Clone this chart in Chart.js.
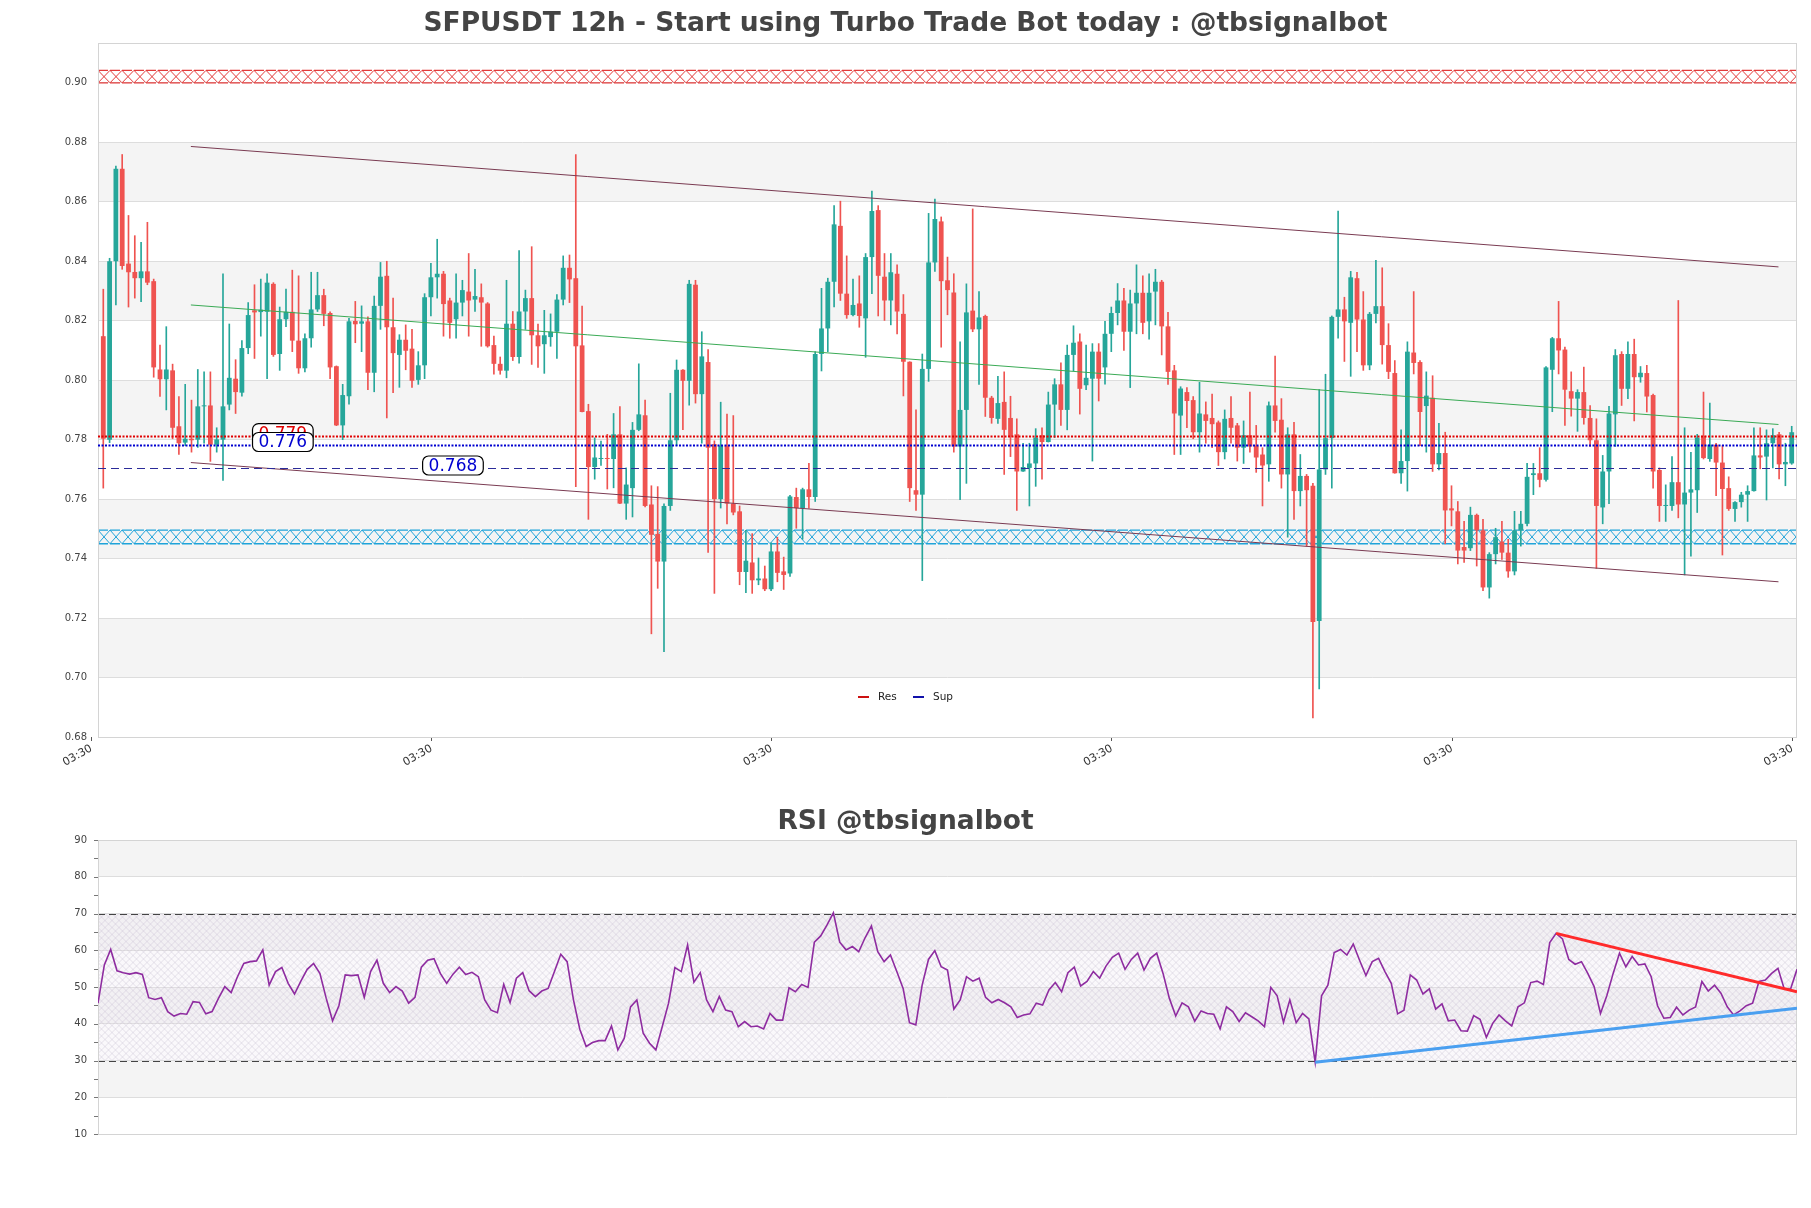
<!DOCTYPE html>
<html>
<head>
<meta charset="utf-8">
<script src="https://cdn.jsdelivr.net/npm/chart.js@4/dist/chart.umd.min.js"></script>
<style>
  html, body { margin: 0; padding: 0; background: #fff; }
  #wrap { position: relative; width: 1811px; height: 1208px; }
  canvas { position: absolute; left: 0; }
  #priceChart { top: 0; width: 1811px; height: 790px; }
  #rsiChart { top: 790px; width: 1811px; height: 400px; }
</style>
</head>
<body>
<div id="wrap">
  <canvas id="priceChart" width="1811" height="790"></canvas>
  <canvas id="rsiChart" width="1811" height="400"></canvas>
</div>
<script>
// candles, one per 12h
const opens = [
  0.8148,0.7800,0.8400,0.8711,0.8392,0.8364,0.8343,0.8366,0.8333,0.8036,
  0.8003,0.8033,0.7845,0.7790,0.7803,0.7800,0.7912,0.7915,0.7783,0.7800,
  0.7918,0.8005,0.7958,0.8108,0.8235,0.8229,0.8230,0.8324,0.8088,0.8205,
  0.8230,0.8133,0.8040,0.8141,0.8238,0.8286,0.8226,0.8047,0.7848,0.7946,
  0.8199,0.8190,0.8198,0.8025,0.8250,0.8351,0.8178,0.8085,0.8136,0.8106,
  0.8001,0.8050,0.8279,0.8346,0.8358,0.8268,0.8205,0.8261,0.8298,0.8271,
  0.8279,0.8258,0.8118,0.8055,0.8032,0.8190,0.8078,0.8231,0.8276,0.8151,
  0.8121,0.8145,0.8163,0.8271,0.8378,0.8343,0.8117,0.7896,0.7708,0.7735,
  0.7738,0.7735,0.7818,0.7585,0.7637,0.7833,0.7882,0.7582,0.7483,0.7390,
  0.7577,0.7798,0.8035,0.7998,0.8321,0.7953,0.8061,0.7785,0.7600,0.7780,
  0.7585,0.7559,0.7355,0.7387,0.7327,0.7333,0.7297,0.7424,0.7357,0.7350,
  0.7607,0.7570,0.7633,0.7607,0.8088,0.8174,0.8331,0.8519,0.8291,0.8219,
  0.8258,0.8208,0.8414,0.8572,0.8348,0.8268,0.8358,0.8223,0.8062,0.7630,
  0.7615,0.8038,0.8396,0.8534,0.8336,0.8295,0.7777,0.7900,0.8234,0.8171,
  0.8216,0.7941,0.7870,0.7927,0.7873,0.7818,0.7693,0.7705,0.7720,0.7815,
  0.7792,0.7918,0.7986,0.7900,0.8085,0.8130,0.7983,0.8005,0.8096,0.8043,
  0.8156,0.8226,0.8268,0.8163,0.8258,0.8294,0.8198,0.8298,0.8331,0.8181,
  0.8033,0.7881,0.7960,0.7933,0.7825,0.7885,0.7873,0.7858,0.7758,0.7873,
  0.7848,0.7773,0.7815,0.7780,0.7750,0.7717,0.7915,0.7867,0.7683,0.7818,
  0.7627,0.7678,0.7645,0.7190,0.7700,0.7805,0.8213,0.8238,0.8193,0.8343,
  0.8204,0.8050,0.8223,0.8249,0.8118,0.8024,0.7687,0.7728,0.8093,0.8061,
  0.7913,0.7941,0.7717,0.7755,0.7569,0.7559,0.7439,0.7435,0.7547,0.7495,
  0.7303,0.7415,0.7457,0.7420,0.7357,0.7495,0.7517,0.7681,0.7687,0.7665,
  0.8035,0.8141,0.8103,0.7963,0.7938,0.7960,0.7873,0.7798,0.7572,0.7693,
  0.7885,0.8088,0.7971,0.8088,0.8010,0.8024,0.7950,0.7698,0.7577,0.7577,
  0.7657,0.7582,0.7622,0.7630,0.7813,0.7735,0.7783,0.7723,0.7637,0.7567,
  0.7590,0.7615,0.7627,0.7747,0.7743,0.7788,0.7818,0.7717,0.7720
];
const highs = [
  0.8306,0.8410,0.8720,0.8759,0.8554,0.8486,0.8464,0.8531,0.8340,0.8118,
  0.8180,0.8054,0.7945,0.7986,0.7933,0.8036,0.8028,0.8028,0.7840,0.8358,
  0.8189,0.8069,0.8133,0.8261,0.8321,0.8340,0.8358,0.8328,0.8246,0.8306,
  0.8370,0.8351,0.8156,0.8363,0.8363,0.8306,0.8230,0.8048,0.7986,0.8208,
  0.8265,0.8250,0.8213,0.8283,0.8396,0.8400,0.8276,0.8153,0.8186,0.8171,
  0.8096,0.8291,0.8393,0.8474,0.8366,0.8276,0.8358,0.8336,0.8426,0.8373,
  0.8324,0.8261,0.8148,0.8078,0.8336,0.8231,0.8436,0.8303,0.8449,0.8189,
  0.8235,0.8223,0.8288,0.8418,0.8421,0.8759,0.8249,0.7919,0.7806,0.7795,
  0.7818,0.7888,0.7911,0.7705,0.7858,0.8055,0.7933,0.7645,0.7642,0.7584,
  0.7956,0.8068,0.8036,0.8336,0.8336,0.8163,0.8103,0.7796,0.7926,0.7886,
  0.7881,0.7577,0.7495,0.7484,0.7402,0.7375,0.7453,0.7472,0.7405,0.7613,
  0.7637,0.7637,0.7720,0.8096,0.8309,0.8343,0.8587,0.8602,0.8418,0.8340,
  0.8351,0.8426,0.8636,0.8587,0.8426,0.8426,0.8388,0.8288,0.8062,0.7900,
  0.8088,0.8561,0.8609,0.8549,0.8414,0.8358,0.8129,0.8324,0.8576,0.8298,
  0.8219,0.7946,0.8013,0.8028,0.7946,0.7870,0.7788,0.7788,0.7837,0.7840,
  0.7960,0.8005,0.8058,0.8118,0.8183,0.8156,0.8118,0.8123,0.8123,0.8198,
  0.8246,0.8325,0.8309,0.8303,0.8388,0.8351,0.8358,0.8373,0.8336,0.8228,
  0.8050,0.7978,0.7975,0.7945,0.7993,0.7927,0.7953,0.7863,0.7900,0.7945,
  0.7855,0.7863,0.7960,0.7848,0.7773,0.7927,0.8081,0.7938,0.7840,0.7858,
  0.7750,0.7683,0.7653,0.7968,0.8020,0.8216,0.8569,0.8279,0.8366,0.8363,
  0.8298,0.8228,0.8403,0.8378,0.8190,0.8066,0.7833,0.8129,0.8298,0.8066,
  0.8028,0.8015,0.7855,0.7825,0.7645,0.7592,0.7525,0.7573,0.7550,0.7532,
  0.7420,0.7502,0.7525,0.7465,0.7559,0.7559,0.7720,0.7720,0.7773,0.8046,
  0.8144,0.8265,0.8111,0.8028,0.7968,0.8044,0.7915,0.7870,0.7747,0.7912,
  0.8103,0.8096,0.8129,0.8138,0.8046,0.8050,0.7953,0.7705,0.7648,0.7743,
  0.8268,0.7840,0.7757,0.7818,0.7960,0.7923,0.7788,0.7780,0.7675,0.7592,
  0.7623,0.7645,0.7840,0.7840,0.7833,0.7837,0.7825,0.7788,0.7845
];
const lows = [
  0.7637,0.7790,0.8253,0.8373,0.8246,0.8276,0.8264,0.8321,0.8010,0.7945,
  0.7900,0.7803,0.7750,0.7780,0.7758,0.7774,0.7788,0.7727,0.7758,0.7663,
  0.7900,0.7888,0.7946,0.8089,0.8073,0.8148,0.8005,0.8080,0.8033,0.8180,
  0.8096,0.8023,0.8028,0.8111,0.8231,0.8183,0.8005,0.7847,0.7800,0.7919,
  0.8126,0.8096,0.7968,0.7961,0.8171,0.7873,0.7958,0.7976,0.8035,0.7976,
  0.7986,0.8005,0.8216,0.8276,0.8148,0.8141,0.8141,0.8216,0.8148,0.8231,
  0.8114,0.8111,0.8020,0.8020,0.8008,0.8066,0.8057,0.8171,0.8053,0.8043,
  0.8023,0.8114,0.8073,0.8253,0.8261,0.7642,0.7893,0.7532,0.7667,0.7713,
  0.7634,0.7638,0.7585,0.7532,0.7540,0.7830,0.7574,0.7147,0.7300,0.7087,
  0.7562,0.7780,0.7834,0.7916,0.7923,0.7788,0.7421,0.7283,0.7570,0.7517,
  0.7547,0.7312,0.7285,0.7283,0.7312,0.7292,0.7292,0.7322,0.7296,0.7340,
  0.7502,0.7465,0.7570,0.7592,0.8031,0.8096,0.8246,0.8268,0.8208,0.8216,
  0.8178,0.8077,0.8291,0.8216,0.8201,0.8186,0.8156,0.7947,0.7592,0.7562,
  0.7326,0.7996,0.8366,0.8111,0.8220,0.7758,0.7598,0.7653,0.8163,0.7986,
  0.7878,0.7855,0.7855,0.7683,0.7743,0.7562,0.7693,0.7577,0.7643,0.7667,
  0.7792,0.7807,0.7848,0.7833,0.8032,0.7886,0.7968,0.7728,0.7930,0.7987,
  0.8096,0.8186,0.8100,0.7975,0.8156,0.8156,0.8138,0.8186,0.8085,0.7986,
  0.7750,0.7750,0.7840,0.7803,0.7758,0.7788,0.7773,0.7713,0.7735,0.7788,
  0.7728,0.7720,0.7758,0.7690,0.7577,0.7660,0.7825,0.7637,0.7472,0.7532,
  0.7577,0.7442,0.6864,0.6962,0.7683,0.7637,0.8141,0.8063,0.8013,0.8096,
  0.8033,0.8035,0.8193,0.8054,0.8005,0.7687,0.7653,0.7627,0.8021,0.7780,
  0.7758,0.7693,0.7698,0.7450,0.7510,0.7382,0.7387,0.7427,0.7375,0.7292,
  0.7267,0.7382,0.7397,0.7337,0.7345,0.7442,0.7510,0.7615,0.7641,0.7660,
  0.7894,0.8021,0.7848,0.7879,0.7828,0.7852,0.7777,0.7367,0.7517,0.7585,
  0.7777,0.7915,0.7938,0.7863,0.7993,0.7893,0.7637,0.7525,0.7525,0.7562,
  0.7537,0.7345,0.7408,0.7555,0.7735,0.7727,0.7612,0.7412,0.7562,0.7525,
  0.7573,0.7525,0.7627,0.7702,0.7597,0.7705,0.7668,0.7645,0.7717
];
const closes = [
  0.7803,0.8400,0.8711,0.8384,0.8363,0.8343,0.8366,0.8328,0.8043,0.8003,
  0.8036,0.7840,0.7788,0.7803,0.7798,0.7912,0.7915,0.7783,0.7801,0.7912,
  0.8008,0.7960,0.8108,0.8219,0.8228,0.8237,0.8328,0.8085,0.8205,0.8230,
  0.8133,0.8040,0.8141,0.8238,0.8286,0.8223,0.8043,0.7848,0.7950,0.8198,
  0.8188,0.8198,0.8025,0.8250,0.8348,0.8178,0.8091,0.8136,0.8099,0.7998,
  0.8050,0.8279,0.8346,0.8358,0.8256,0.8193,0.8261,0.8303,0.8268,0.8283,
  0.8261,0.8114,0.8055,0.8032,0.8190,0.8078,0.8231,0.8276,0.8151,0.8114,
  0.8151,0.8163,0.8271,0.8378,0.8339,0.8114,0.7893,0.7708,0.7740,0.7738,
  0.7735,0.7818,0.7585,0.7649,0.7833,0.7885,0.7577,0.7480,0.7390,0.7577,
  0.7798,0.8035,0.7998,0.8324,0.7953,0.8080,0.7773,0.7600,0.7780,0.7585,
  0.7555,0.7355,0.7393,0.7327,0.7333,0.7297,0.7424,0.7352,0.7345,0.7609,
  0.7570,0.7633,0.7607,0.8088,0.8174,0.8331,0.8524,0.8291,0.8219,0.8253,
  0.8216,0.8414,0.8569,0.8351,0.8268,0.8363,0.8231,0.8062,0.7637,0.7615,
  0.8038,0.8396,0.8542,0.8333,0.8303,0.7777,0.7900,0.8228,0.8171,0.8211,
  0.7941,0.7873,0.7923,0.7833,0.7810,0.7693,0.7708,0.7720,0.7807,0.7792,
  0.7918,0.7986,0.7900,0.8085,0.8126,0.7971,0.8008,0.8096,0.8005,0.8156,
  0.8226,0.8268,0.8163,0.8258,0.8294,0.8193,0.8294,0.8331,0.8181,0.8028,
  0.7888,0.7972,0.7930,0.7825,0.7888,0.7863,0.7852,0.7758,0.7870,0.7840,
  0.7773,0.7815,0.7777,0.7740,0.7713,0.7915,0.7863,0.7683,0.7818,0.7627,
  0.7678,0.7630,0.7187,0.7700,0.7805,0.8213,0.8238,0.8198,0.8346,0.8204,
  0.8050,0.8223,0.8249,0.8118,0.8028,0.7687,0.7728,0.8096,0.8058,0.7893,
  0.7948,0.7717,0.7755,0.7562,0.7562,0.7427,0.7427,0.7547,0.7495,0.7303,
  0.7415,0.7472,0.7420,0.7357,0.7495,0.7517,0.7675,0.7687,0.7665,0.8043,
  0.8141,0.8100,0.7968,0.7938,0.7960,0.7873,0.7798,0.7577,0.7693,0.7888,
  0.8084,0.7971,0.8088,0.8010,0.8025,0.7945,0.7693,0.7577,0.7580,0.7657,
  0.7582,0.7622,0.7633,0.7807,0.7738,0.7783,0.7723,0.7634,0.7567,0.7590,
  0.7615,0.7627,0.7747,0.7740,0.7788,0.7815,0.7717,0.7725,0.7825
];

// RSI, one value per candle
const rsiValues = [
  45.6,56.0,60.2,54.4,53.9,53.5,53.9,53.4,47.1,46.6,
  47.1,43.3,42.1,42.8,42.6,46.0,45.8,42.7,43.3,46.9,
  50.1,48.5,52.8,56.4,56.9,57.1,60.1,50.5,54.2,55.3,
  51.0,48.1,51.6,54.8,56.4,53.7,46.9,40.8,44.9,53.3,
  53.1,53.3,47.2,54.2,57.3,51.0,48.5,50.1,48.9,45.6,
  47.2,55.4,57.3,57.7,53.7,51.0,53.5,55.4,53.4,54.0,
  52.8,46.5,43.7,43.0,50.7,45.8,52.4,53.9,49.0,47.4,
  48.9,49.6,54.2,58.9,56.9,46.5,38.5,33.8,34.9,35.4,
  35.4,39.4,32.9,36.0,44.6,46.5,37.4,34.7,32.9,39.2,
  45.6,55.3,54.2,61.4,51.3,53.9,46.5,43.3,47.4,43.7,
  43.3,39.2,40.6,39.2,39.4,38.6,42.8,41.0,41.0,49.8,
  48.7,50.7,49.9,62.2,63.9,66.9,70.2,62.2,60.1,61.0,
  59.6,63.4,66.6,59.6,56.9,58.7,54.2,49.6,40.3,39.7,
  50.5,57.5,59.9,55.5,54.6,44.0,46.5,52.8,51.6,52.4,
  47.2,45.7,46.6,45.7,44.6,41.7,42.4,42.7,45.6,45.1,
  49.2,51.2,48.7,53.9,55.4,50.3,51.5,54.2,52.4,55.7,
  58.1,59.2,54.8,57.5,59.2,54.6,57.8,59.2,53.7,46.9,
  42.1,45.7,44.6,40.7,43.5,42.8,42.6,38.6,44.6,43.3,
  40.6,43.0,41.9,40.8,39.2,49.9,47.6,40.4,46.5,40.3,
  42.8,41.3,29.5,47.6,50.5,59.4,60.2,58.7,61.7,57.3,
  53.1,56.9,57.8,54.2,51.0,42.7,43.7,53.3,51.9,48.1,
  49.5,44.0,45.4,40.8,41.0,38.1,38.0,42.2,41.2,36.3,
  40.1,42.4,40.8,39.4,44.6,45.7,51.2,51.6,50.7,62.1,
  64.6,63.1,57.5,56.2,56.9,53.7,50.1,42.8,47.6,53.7,
  59.2,55.5,58.3,56.0,56.3,52.8,44.9,41.5,41.7,44.5,
  42.4,43.7,44.6,51.5,48.9,50.5,48.3,44.6,42.4,43.5,
  44.9,45.6,51.5,51.9,53.7,55.1,49.4,49.5,54.8
];

// axes
const yTickValues = [0.68,0.70,0.72,0.74,0.76,0.78,0.80,0.82,0.84,0.86,0.88,0.90];
const xTickPositions = [-1.9, 52.1, 106.1, 160.1, 214.1, 268.1];
const xTickLabels = ['03:30','03:30','03:30','03:30','03:30','03:30'];
const rsiTickValues = [10,20,30,40,50,60,70,80,90];

// trend lines [index, price]
const upperChannel = [[13.9, 0.8786], [265.9, 0.8381]];
const lowerChannel = [[13.9, 0.7723], [265.9, 0.7322]];
const midTrend = [[13.9, 0.8253], [265.9, 0.7851]];

// levels and zones
const levelValues = [0.7812, 0.7782, 0.7703];
const levelTags = ['0.779', '0.776', '0.768'];
const tagIndex = [28.5, 28.5, 55.5];
const resZone = [0.9000, 0.9042];
const supZone = [0.7450, 0.7496];

// RSI lines [index, rsi]
const rsiBounds = [70, 30];
const rsiResLine = [[230, 64.6], [268, 48.7]];
const rsiSupLine = [[192, 29.5], [268, 44.2]];

const UP = '#26a69a', DOWN = '#ef5350';
const levelStyles = [
  { color: '#e00000', width: 2, dash: [2, 1.5] },
  { color: '#0000d0', width: 2, dash: [2, 1.5] },
  { color: '#2b2b99', width: 1, dash: [8, 5] }
];
const tagColors = ['#e00000', '#0000d0', '#0000d0'];

Chart.defaults.font.family = "'DejaVu Sans', sans-serif";
Chart.defaults.color = '#444';

const pts = arr => arr.map(([x, y]) => ({ x, y }));
const candleColor = ctx => closes[ctx.dataIndex] >= opens[ctx.dataIndex] ? UP : DOWN;

function fillBands(chart, ticks) {
  const { ctx, chartArea: a, scales: { y } } = chart;
  ctx.save();
  ctx.fillStyle = '#f4f4f4';
  for (let k = 1; k < ticks.length - 1; k += 2) {
    const t = y.getPixelForValue(ticks[k + 1]), b = y.getPixelForValue(ticks[k]);
    ctx.fillRect(a.left, t, a.right - a.left, b - t);
  }
  ctx.restore();
}

function hatchZone(ctx, a, yTop, yBot, color) {
  const step = 12;
  ctx.save();
  ctx.beginPath();
  ctx.rect(a.left, yTop, a.right - a.left, yBot - yTop);
  ctx.clip();
  ctx.strokeStyle = color;
  ctx.lineWidth = 1;
  ctx.beginPath();
  for (let x = a.left; x < a.right + step; x += step) {
    ctx.moveTo(x, yTop); ctx.lineTo(x + step, yBot);
    ctx.moveTo(x + step, yTop); ctx.lineTo(x, yBot);
  }
  ctx.stroke();
  ctx.restore();
  ctx.save();
  ctx.strokeStyle = color;
  ctx.lineWidth = 1.3;
  ctx.setLineDash([10, 2]);
  ctx.beginPath();
  ctx.moveTo(a.left, yTop); ctx.lineTo(a.right, yTop);
  ctx.moveTo(a.left, yBot); ctx.lineTo(a.right, yBot);
  ctx.stroke();
  ctx.restore();
}

function drawTag(ctx, cx, cy, text, color) {
  ctx.save();
  ctx.font = "17px 'DejaVu Sans'";
  const w = ctx.measureText(text).width + 12, h = 19;
  ctx.beginPath();
  ctx.roundRect(cx - w / 2, cy - h / 2, w, h, 6);
  ctx.fillStyle = '#fff';
  ctx.fill();
  ctx.lineWidth = 1.2;
  ctx.strokeStyle = '#000';
  ctx.stroke();
  ctx.fillStyle = color;
  ctx.textAlign = 'center';
  ctx.textBaseline = 'middle';
  ctx.fillText(text, cx, cy + 1);
  ctx.restore();
}

function frame(chart) {
  const { ctx, chartArea: a } = chart;
  ctx.save();
  ctx.strokeStyle = '#d4d4d4';
  ctx.lineWidth = 1;
  ctx.strokeRect(a.left + 0.5, a.top + 0.5, a.right - a.left - 1, a.bottom - a.top);
  ctx.restore();
}

const priceDecor = {
  id: 'priceDecor',
  beforeDraw(chart) { fillBands(chart, yTickValues); },
  beforeDatasetsDraw(chart) {
    const { ctx, chartArea: a, scales: { y } } = chart;
    hatchZone(ctx, a, y.getPixelForValue(resZone[1]), y.getPixelForValue(resZone[0]), '#e23a3a');
    hatchZone(ctx, a, y.getPixelForValue(supZone[1]), y.getPixelForValue(supZone[0]), '#1fa3d9');
    frame(chart);
  },
  afterDatasetsDraw(chart) {
    const { ctx, chartArea: a, scales: { x, y } } = chart;
    levelValues.forEach((v, k) => {
      const s = levelStyles[k], py = Math.round(y.getPixelForValue(v)) + 0.5;
      ctx.save();
      ctx.strokeStyle = s.color;
      ctx.lineWidth = s.width;
      ctx.setLineDash(s.dash);
      ctx.beginPath();
      ctx.moveTo(a.left, py); ctx.lineTo(a.right, py);
      ctx.stroke();
      ctx.restore();
    });
    levelValues.forEach((v, k) => {
      drawTag(ctx, x.getPixelForValue(tagIndex[k]), y.getPixelForValue(v) - 3, levelTags[k], tagColors[k]);
    });
    // legend
    const ly = a.bottom - 40, lx = a.left + 760;
    ctx.save();
    ctx.font = "10.5px 'DejaVu Sans'";
    ctx.textBaseline = 'middle';
    ctx.lineWidth = 2;
    ctx.strokeStyle = '#cc1111';
    ctx.beginPath(); ctx.moveTo(lx, ly); ctx.lineTo(lx + 11, ly); ctx.stroke();
    ctx.fillStyle = '#222';
    ctx.fillText('Res', lx + 20, ly);
    ctx.strokeStyle = '#1111aa';
    ctx.beginPath(); ctx.moveTo(lx + 55, ly); ctx.lineTo(lx + 66, ly); ctx.stroke();
    ctx.fillText('Sup', lx + 75, ly);
    ctx.restore();
  }
};

const rsiDecor = {
  id: 'rsiDecor',
  beforeDraw(chart) { fillBands(chart, rsiTickValues); },
  beforeDatasetsDraw(chart) {
    const { ctx, chartArea: a, scales: { y } } = chart;
    const yTop = y.getPixelForValue(rsiBounds[0]), yBot = y.getPixelForValue(rsiBounds[1]);
    const h = yBot - yTop;
    ctx.save();
    ctx.beginPath();
    ctx.rect(a.left, yTop, a.right - a.left, h);
    ctx.clip();
    ctx.fillStyle = 'rgba(235,228,240,0.25)';
    ctx.fillRect(a.left, yTop, a.right - a.left, h);
    ctx.strokeStyle = 'rgba(185,175,200,0.45)';
    ctx.lineWidth = 0.7;
    ctx.beginPath();
    for (let x0 = a.left - h; x0 < a.right; x0 += 7) {
      ctx.moveTo(x0, yBot); ctx.lineTo(x0 + h, yTop);
      ctx.moveTo(x0, yTop); ctx.lineTo(x0 + h, yBot);
    }
    ctx.stroke();
    ctx.restore();
    ctx.save();
    ctx.strokeStyle = '#444';
    ctx.lineWidth = 1.2;
    ctx.setLineDash([7, 4]);
    rsiBounds.forEach(v => {
      const py = Math.round(y.getPixelForValue(v)) + 0.5;
      ctx.beginPath(); ctx.moveTo(a.left, py); ctx.lineTo(a.right, py); ctx.stroke();
    });
    ctx.restore();
    frame(chart);
  },
  afterDraw(chart) {
    const { ctx, chartArea: a, scales: { y } } = chart;
    ctx.save();
    ctx.strokeStyle = '#777';
    ctx.lineWidth = 1;
    for (let v = rsiTickValues[0]; v <= rsiTickValues[rsiTickValues.length - 1]; v += 5) {
      const py = Math.round(y.getPixelForValue(v)) + 0.5;
      ctx.beginPath(); ctx.moveTo(a.left - 4, py); ctx.lineTo(a.left, py); ctx.stroke();
    }
    ctx.restore();
  }
};

const tickFont = { size: 10 };

// empty strip on the right so the title centres on the whole canvas
const rightGutter = {
  position: 'right', display: true,
  grid: { display: false }, border: { display: false }, ticks: { display: false },
  afterFit: s => { s.width = 14; }
};

new Chart(document.getElementById('priceChart'), {
  type: 'bar',
  data: {
    datasets: [
      { type: 'line', data: pts(upperChannel), borderColor: '#7a3b52', borderWidth: 1, pointRadius: 0, order: 0 },
      { type: 'line', data: pts(lowerChannel), borderColor: '#7a3b52', borderWidth: 1, pointRadius: 0, order: 0 },
      { type: 'line', data: pts(midTrend), borderColor: '#3aaa55', borderWidth: 1, pointRadius: 0, order: 0 },
      {
        data: opens.map((o, i) => ({ x: i, y: [o, closes[i]] })),
        backgroundColor: candleColor, borderWidth: 0,
        barPercentage: 0.76, categoryPercentage: 1, grouped: false, minBarLength: 1, order: 1
      },
      {
        data: lows.map((l, i) => ({ x: i, y: [l, highs[i]] })),
        backgroundColor: candleColor, borderWidth: 0,
        barThickness: 1, grouped: false, order: 2
      }
    ]
  },
  options: {
    responsive: false,
    devicePixelRatio: 1,
    animation: false,
    events: [],
    layout: { padding: 0 },
    plugins: {
      legend: { display: false },
      tooltip: { enabled: false },
      title: {
        display: true,
        text: 'SFPUSDT 12h - Start using Turbo Trade Bot today : @tbsignalbot',
        color: '#444',
        font: { size: 26.5, weight: 'bold' },
        padding: { top: 8.6, bottom: 2.6 }
      }
    },
    scales: {
      x: {
        type: 'linear', min: -0.84, max: 268.84, offset: false,
        grid: { display: true, offset: false, drawOnChartArea: false, drawTicks: true, tickLength: 4, color: '#555' },
        border: { display: false },
        ticks: {
          autoSkip: false, minRotation: 30, maxRotation: 30, padding: 1,
          font: { size: 11 }, color: '#333',
          callback: (v, i) => xTickLabels[i]
        },
        afterBuildTicks: s => { s.ticks = xTickPositions.map(v => ({ value: v })); },
        afterFit: s => { s.height = 53; }
      },
      y: {
        min: 0.68, max: 0.9134,
        grid: { color: '#dddddd', drawTicks: false },
        border: { display: false },
        ticks: { padding: 11, font: tickFont, color: '#444', callback: v => Number(v).toFixed(2) },
        afterBuildTicks: s => { s.ticks = yTickValues.map(v => ({ value: v })); },
        afterFit: s => { s.width = 98; }
      },
      gutter: rightGutter
    }
  },
  plugins: [priceDecor]
});

new Chart(document.getElementById('rsiChart'), {
  type: 'line',
  data: {
    datasets: [
      { data: pts(rsiResLine), borderColor: '#ff2a2a', borderWidth: 3, pointRadius: 0, order: 0 },
      { data: pts(rsiSupLine), borderColor: '#4a9ff0', borderWidth: 3, pointRadius: 0, order: 0 },
      { data: rsiValues.map((v, i) => ({ x: i, y: v })), borderColor: '#8e2ca0', borderWidth: 1.6, pointRadius: 0, order: 1 }
    ]
  },
  options: {
    responsive: false,
    devicePixelRatio: 1,
    animation: false,
    events: [],
    layout: { padding: 0 },
    plugins: {
      legend: { display: false },
      tooltip: { enabled: false },
      title: {
        display: true,
        text: 'RSI @tbsignalbot',
        color: '#444',
        font: { size: 26.5, weight: 'bold' },
        padding: { top: 16.4, bottom: 1.8 }
      }
    },
    scales: {
      x: {
        type: 'linear', min: 0, max: 268,
        grid: { display: false },
        border: { display: false },
        ticks: { display: false },
        afterFit: s => { s.height = 56; }
      },
      y: {
        min: 10, max: 90,
        grid: { color: '#dddddd', drawTicks: false },
        border: { display: false },
        ticks: { padding: 11, font: tickFont, color: '#444' },
        afterBuildTicks: s => { s.ticks = rsiTickValues.map(v => ({ value: v })); },
        afterFit: s => { s.width = 98; }
      },
      gutter: rightGutter
    }
  },
  plugins: [rsiDecor]
});
</script>
</body>
</html>
